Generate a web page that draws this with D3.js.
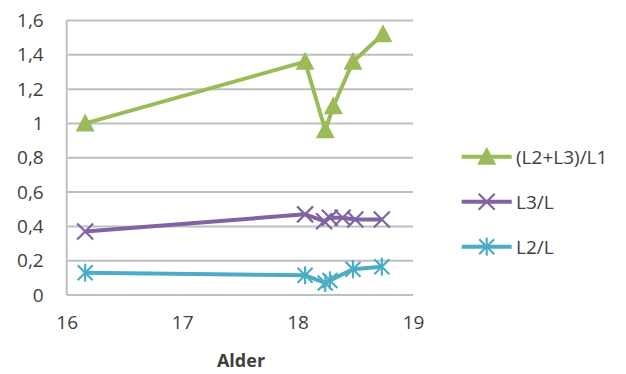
<!DOCTYPE html>
<html>
<head>
<meta charset="utf-8">
<script src="https://cdn.jsdelivr.net/npm/d3@7"></script>
<style>
  body { margin: 0; background: #fff; }
  text { font-family: "Open Sans", "Liberation Sans", sans-serif; fill: #404040; }
</style>
</head>
<body>
<svg id="chart" width="626" height="374"></svg>
<script>
// values
const yTicks = [0, 0.2, 0.4, 0.6, 0.8, 1, 1.2, 1.4, 1.6];
const xTicks = [16, 17, 18, 19];

const sumAge = [16.16, 18.065, 18.24, 18.31, 18.48, 18.74];
const sumRatio = [1.0, 1.36, 0.96, 1.10, 1.36, 1.52];

const l3Age = [16.16, 18.065, 18.23, 18.28, 18.39, 18.50, 18.73];
const l3Ratio = [0.37, 0.47, 0.43, 0.45, 0.45, 0.44, 0.44];

const l2Age = [16.16, 18.065, 18.24, 18.28, 18.48, 18.73];
const l2Ratio = [0.13, 0.115, 0.07, 0.085, 0.15, 0.165];

const seriesNames = ["(L2+L3)/L1", "L3/L", "L2/L"];

const svg = d3.select("#chart");

const x = d3.scaleLinear().domain([16, 19]).range([66.7, 413]);
const y = d3.scaleLinear().domain([0, 1.6]).range([295, 20.5]);

// Gridlines
svg.append("g").selectAll("line")
    .data(yTicks)
    .join("line")
    .attr("x1", x(16)).attr("x2", x(19))
    .attr("y1", d => y(d)).attr("y2", d => y(d))
    .attr("stroke", "#bfbfbf")
    .attr("stroke-width", 2);

// left border of the plot area
svg.append("line")
    .attr("x1", x(16)).attr("x2", x(16))
    .attr("y1", y(1.6)).attr("y2", y(0))
    .attr("stroke", "#bfbfbf")
    .attr("stroke-width", 2);

// Y axis labels
const yAxis = d3.axisLeft(y).tickValues(yTicks).tickSize(0).tickPadding(23)
    .tickFormat(d => d3.format(".1~f")(d).replace(".", ","));
svg.append("g")
    .attr("transform", `translate(${x(16)},0)`)
    .call(yAxis)
    .call(g => g.select(".domain").remove())
    .selectAll("text")
    .attr("font-size", 19)
    .attr("font-family", "'Open Sans', sans-serif")
    .attr("fill", "#404040");

// X axis labels
const xAxis = d3.axisBottom(x).tickValues(xTicks).tickSize(0).tickPadding(21)
    .tickFormat(d3.format("d"));
svg.append("g")
    .attr("transform", `translate(0,${y(0)})`)
    .call(xAxis)
    .call(g => g.select(".domain").remove())
    .selectAll("text")
    .attr("font-size", 19)
    .attr("font-family", "'Open Sans', sans-serif")
    .attr("fill", "#404040");

// Axis title
svg.append("text")
    .attr("x", 241)
    .attr("y", 360)
    .attr("text-anchor", "middle")
    .attr("dominant-baseline", "central")
    .attr("font-size", 18)
    .attr("font-weight", "bold")
    .attr("fill", "#262626")
    .text("Alder");

// marker shapes
function triangle(g, cx, cy, color) {
    g.append("path")
        .attr("d", `M${cx},${cy - 10}L${cx + 9.5},${cy + 8}L${cx - 9.5},${cy + 8}Z`)
        .attr("fill", color);
}
function cross(g, cx, cy, color, r) {
    g.append("path")
        .attr("d", `M${cx - r},${cy - r}L${cx + r},${cy + r}M${cx - r},${cy + r}L${cx + r},${cy - r}`)
        .attr("stroke", color).attr("stroke-width", 2.2).attr("fill", "none");
}
function star(g, cx, cy, color, r) {
    cross(g, cx, cy, color, r);
    g.append("path")
        .attr("d", `M${cx},${cy - r * 1.2}L${cx},${cy + r * 1.2}`)
        .attr("stroke", color).attr("stroke-width", 2.2);
}

const series = [
    { name: seriesNames[0], xs: sumAge, ys: sumRatio, color: "#9bbb59", marker: (g, a, b, c) => triangle(g, a, b, c) },
    { name: seriesNames[1], xs: l3Age, ys: l3Ratio, color: "#8064a2", marker: (g, a, b, c) => cross(g, a, b, c, 8) },
    { name: seriesNames[2], xs: l2Age, ys: l2Ratio, color: "#4bacc6", marker: (g, a, b, c) => star(g, a, b, c, 7.5) }
];

const line = d3.line()
    .x(d => x(d[0]))
    .y(d => y(d[1]));

// draw bottom series first so the green one sits on top
series.slice().reverse().forEach(s => {
    const pts = s.xs.map((v, i) => [v, s.ys[i]]);
    const g = svg.append("g");
    g.append("path")
        .datum(pts)
        .attr("d", line)
        .attr("fill", "none")
        .attr("stroke", s.color)
        .attr("stroke-width", 4)
        .attr("stroke-linejoin", "round");
    pts.forEach(p => s.marker(g, x(p[0]), y(p[1]), s.color));
});

// Legend
const legendY = [156.7, 201.7, 246.7];
series.forEach((s, i) => {
    const g = svg.append("g");
    g.append("line")
        .attr("x1", 461.7).attr("x2", 511.7)
        .attr("y1", legendY[i]).attr("y2", legendY[i])
        .attr("stroke", s.color)
        .attr("stroke-width", 4);
    s.marker(g, 486.7, legendY[i], s.color);
    g.append("text")
        .attr("x", 516)
        .attr("y", legendY[i])
        .attr("dominant-baseline", "central")
        .attr("font-size", 19)
        .text(s.name);
});
</script>
</body>
</html>
